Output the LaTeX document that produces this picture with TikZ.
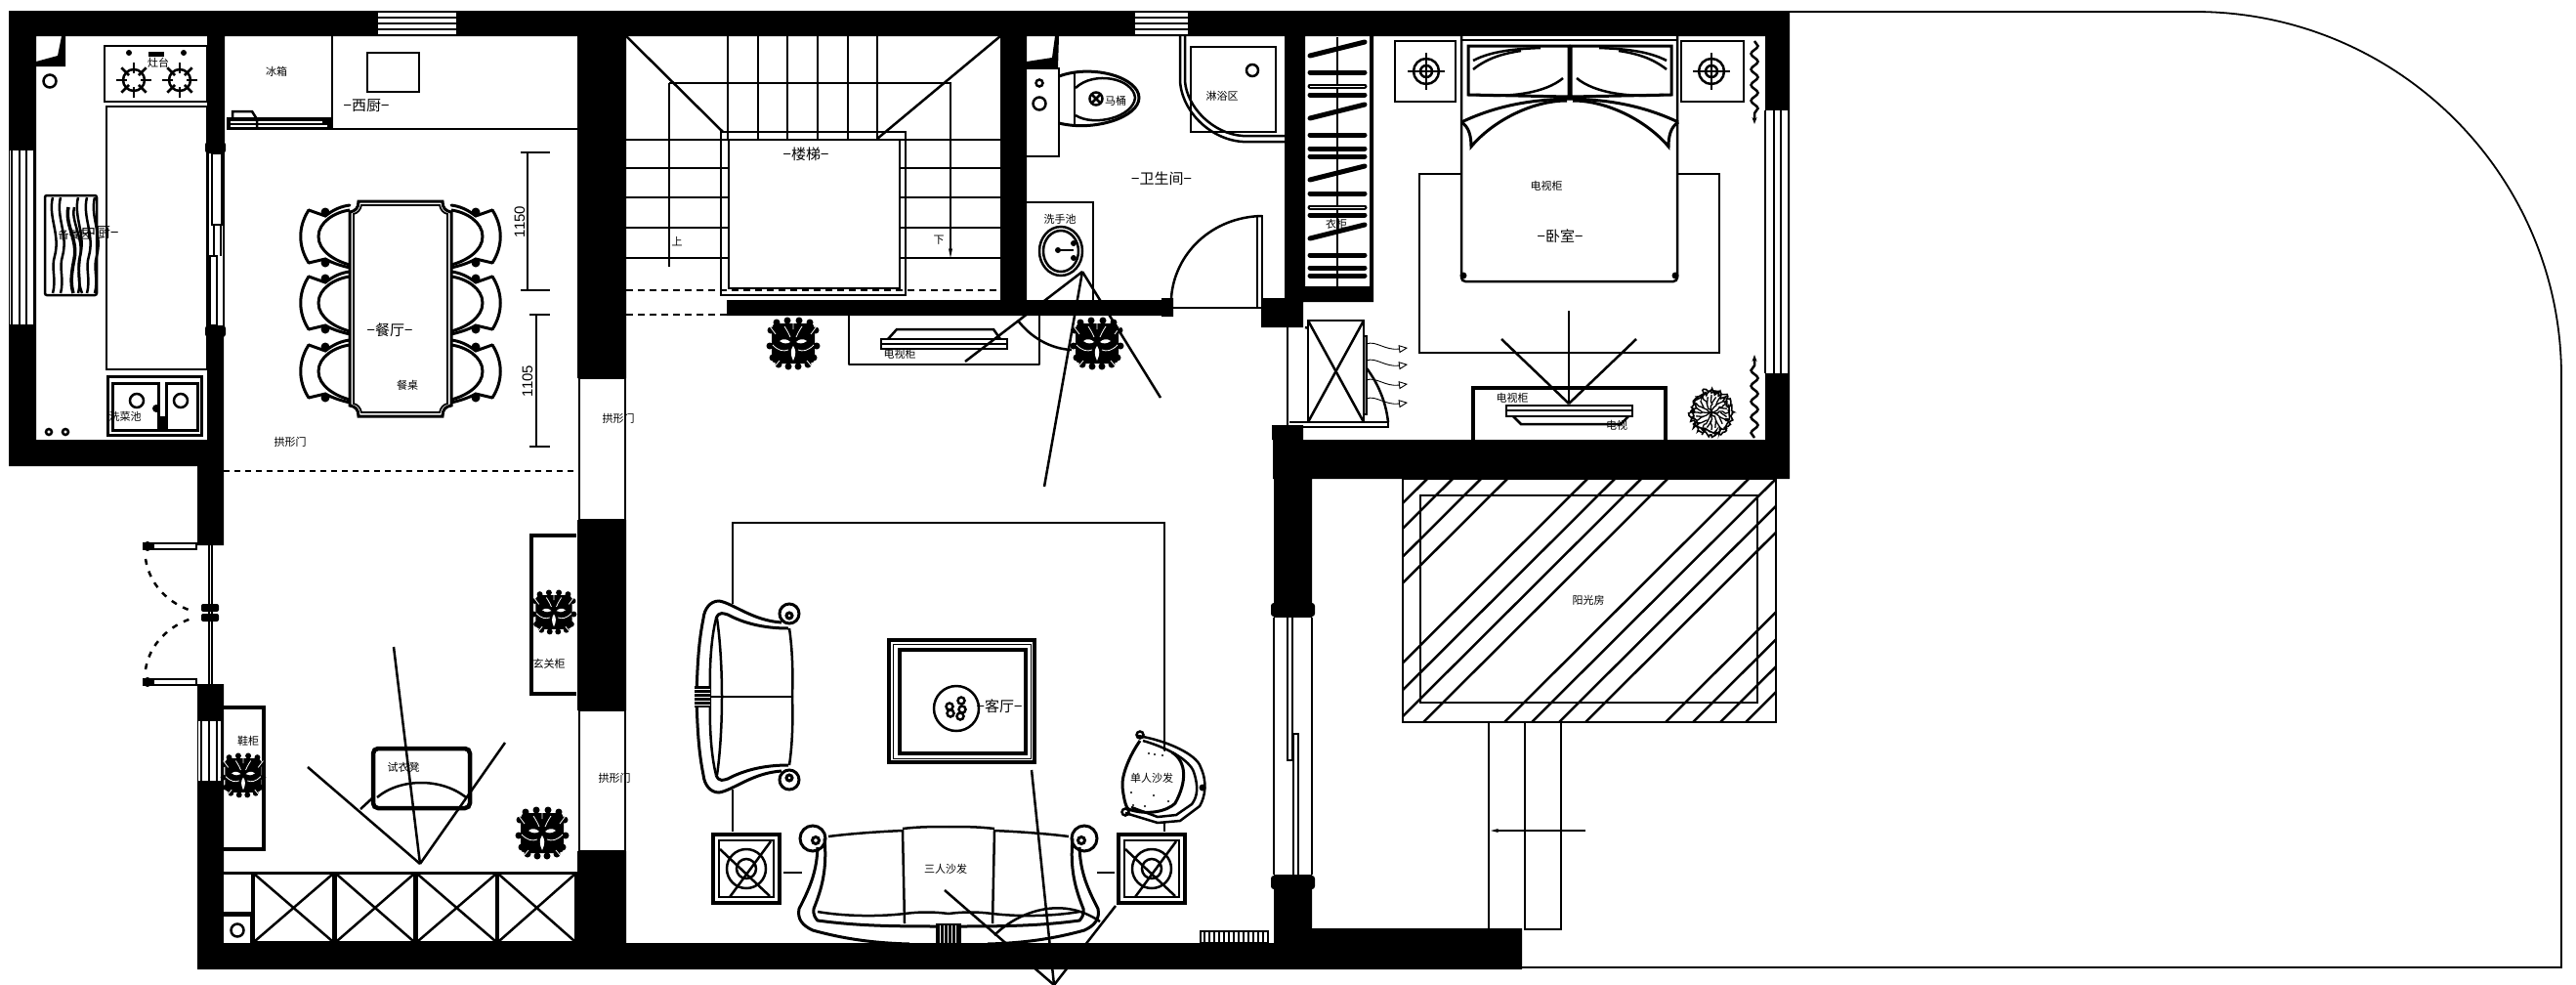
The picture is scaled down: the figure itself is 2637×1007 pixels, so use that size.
\documentclass[tikz,border=0pt]{standalone}
\usepackage{fontspec}
\setmainfont{Noto Sans CJK SC}
\newfontfamily\dimfont{Liberation Sans}
\usetikzlibrary{arrows.meta, decorations.pathmorphing}

\tikzset{
    thinln/.style={line width=1.3pt},
    midln/.style={line width=2.5pt},
    furnln/.style={line width=3pt},
    thickln/.style={line width=4.5pt},
    roomlabel/.style={inner sep=0pt, font=\fontsize{15}{15}\selectfont},
    smalllabel/.style={inner sep=0pt, font=\fontsize{11}{11}\selectfont},
    dimlabel/.style={inner sep=0pt, rotate=90, font=\dimfont\fontsize{15}{15}\selectfont},
    pics/flora/.style={code={
        \fill[black, rounded corners=5pt] (-22,-20) rectangle (22,21);
        \foreach \x/\y in {-23/-13,-17/-21,-6/-23,6/-23,17/-21,23/-13,-24/3,24/3,-21/15,21/15,-15/22,15/22,-5/24,5/24} \fill[black] (\x,\y) circle (3.5);
        \fill[white] (-14,-2) .. controls (-10,-5) and (-6,-4) .. (-3,-1) .. controls (-6,1) and (-10,1) .. (-14,-2);
        \fill[white] (14,-2) .. controls (10,-5) and (6,-4) .. (3,-1) .. controls (6,1) and (10,1) .. (14,-2);
        \fill[white] (0,3) .. controls (3,7) and (3,12) .. (0,18) .. controls (-3,12) and (-3,7) .. (0,3);
        \draw[white, line width=.8pt] (-9,-17) .. controls (-5,-11) and (-4,-8) .. (-3,-6);
        \draw[white, line width=.8pt] (9,-17) .. controls (5,-11) and (4,-8) .. (3,-6);
        \draw[white, line width=.8pt] (-21,2) .. controls (-15,8) and (-10,9) .. (-5,7);
        \draw[white, line width=.8pt] (21,2) .. controls (15,8) and (10,9) .. (5,7);
        \draw[white, line width=.8pt] (-18,-9) -- (-24,-17) (18,-9) -- (24,-17) (-14,18) -- (-19,24) (14,18) -- (19,24) (0,-14) -- (0,-25);
    }},
    pics/dinechair/.style={code={
        \draw[furnln, line cap=round] (-42,-27) .. controls (-53,-10) and (-53,10) .. (-42,27);
        \draw[furnln, line cap=round] (-42,-27) -- (-25,-21) .. controls (-16,-28) and (-8,-31) .. (0,-32);
        \draw[furnln, line cap=round] (-42,27) -- (-25,23) .. controls (-16,28) and (-8,30) .. (0,32);
        \draw[furnln] (0,-27) .. controls (-15,-25) and (-32,-15) .. (-32,0) .. controls (-32,15) and (-15,25) .. (0,29);
        \fill (-25,-25) circle (4.5);
        \fill (-25,27) circle (4.5);
    }},
    pics/target/.style={code={
        \draw[midln] (0,0) circle (13);
        \draw[midln] (0,0) circle (6);
        \draw[midln] (-19,0) -- (19,0);
        \draw[midln] (0,-19) -- (0,19);
    }},
    pics/endtable/.style={code={
        \draw[thickln, fill=white] (-34,-35) rectangle (34,35);
        \draw[midln] (-28,-29) rectangle (28,29);
        \draw[midln] (0,0) circle (20);
        \draw[midln] (0,0) circle (10);
        \draw[midln] (-27,-20) -- (24,28);
        \draw[midln] (25,-28) -- (-17,29);
    }}
}

\begin{document}
\begin{tikzpicture}[x=1pt, y=-1pt]
    \useasboundingbox (0,0) rectangle (2637,1007);
    \fill[white] (0,0) rectangle (2637,1007);

    % Garden boundary
    \draw[line width=1.8pt] (1832,12) -- (2247,12) .. controls (2454,12) and (2622,179) .. (2622,385) -- (2622,990) -- (1558,990);

    % Sun room steps
    \draw[midln] (1524,739) -- (1524,951);
    \draw[midln] (1561,739) -- (1561,951) -- (1598,951) -- (1598,739);
    \draw[midln, -{Stealth[length=8pt,width=4pt]}] (1623,850) -- (1526,850);

    % Sun room
    \begin{scope}
        \clip (1436,490) rectangle (1818,739);
        \foreach \t in {1461,1487,1516,1543,1625,1653,1680,1707,1790,1818,1846,1873,1955,1983,2011,2037}
            \draw[midln] (\t,490) -- ({\t-250},739);
    \end{scope}
    \draw[midln] (1436,490) rectangle (1818,739);
    \draw[midln] (1454,507) rectangle (1799,719);

    % Walls
    \fill[black]
        (9,11) rectangle (1832,37)
        (9,11) rectangle (37,477)
        (9,450) rectangle (212,477)
        (212,37) rectangle (230,145)
        (212,343) rectangle (229,450)
        (202,450) rectangle (229,558)
        (202,700) rectangle (229,992)
        (202,965) rectangle (1558,992)
        (591,37) rectangle (641,387)
        (591,532) rectangle (641,727)
        (591,871) rectangle (641,965)
        (1024,37) rectangle (1051,308)
        (744,307) rectangle (1201,323)
        (1189,305) rectangle (1201,324)
        (1315,37) rectangle (1336,308)
        (1316,293) rectangle (1406,309)
        (1402,37) rectangle (1406,293)
        (1291,305) rectangle (1334,335)
        (1302,435) rectangle (1334,450)
        (1303,450) rectangle (1832,490)
        (1807,37) rectangle (1832,490)
        (1304,490) rectangle (1343,950)
        (1304,950) rectangle (1558,965);

    % Arched doors in the middle wall
    \draw[thinln, fill=white] (593,387) rectangle (640,532);
    \draw[thinln, fill=white] (593,727) rectangle (640,871);

    % Top windows
    \foreach \xa/\xb in {387/467,1162/1216} {
        \fill[white] (\xa,13) rectangle (\xb,35);
        \foreach \y in {18,24,30} \draw[midln] (\xa,\y) -- (\xb,\y);
    }
    % Side windows
    \fill[white] (10,154) rectangle (35,332);
    \foreach \x in {12,20,27,35} \draw[midln] (\x,154) -- (\x,332);
    \fill[white] (1807,113) rectangle (1832,382);
    \foreach \x in {1807,1816,1823,1831} \draw[midln] (\x,113) -- (\x,382);
    \fill[white] (203,738) rectangle (226,799);
    \foreach \x in {206,214,222} \draw[midln] (\x,738) -- (\x,799);

    % Kitchen window
    \fill[white] (212,145) rectangle (230,343);
    \draw[midln] (213,145) -- (213,343);
    \draw[midln] (229,145) -- (229,343);
    \draw[midln] (217,157) rectangle (227,230);
    \draw[midln] (219,230) -- (219,262) (226,230) -- (226,262);
    \draw[midln] (215,262) rectangle (222,333);
    \foreach \y in {151,339} \fill[rounded corners=3pt] (210,\y-6) rectangle (231,\y+6);

    % Living room sliding window
    \fill[white] (1305,632) rectangle (1342,895);
    \draw[midln] (1304,632) -- (1304,895);
    \draw[midln] (1343,632) -- (1343,895);
    \draw[line width=1.8pt] (1318,632) -- (1318,778) -- (1323,778) -- (1323,632);
    \draw[line width=1.8pt] (1324,895) -- (1324,751) -- (1329,751) -- (1329,895);
    \foreach \y in {624,903} \fill[rounded corners=3pt] (1301,\y-7) rectangle (1346,\y+7);

    % Entrance door
    \foreach \y in {559,698} {
        \fill (146,\y-4) rectangle (202,\y+4);
        \fill[white] (158,\y-2) rectangle (200,\y+2);
        \fill (151,\y) circle (5);
    }
    \draw[midln] (214,558) -- (214,700);
    \draw[midln] (217,558) -- (217,700);
    \foreach \y in {622,632} \fill[rounded corners=2pt] (206,\y-4) rectangle (224,\y+4);
    \draw[midln, dash pattern=on 6pt off 7pt] (149,572) .. controls (153,598) and (172,618) .. (199,626);
    \draw[midln, dash pattern=on 6pt off 7pt] (149,685) .. controls (153,660) and (172,640) .. (199,632);
    \draw[midln, dash pattern=on 6pt off 5pt] (229,482) -- (591,482);

    % Kitchen
    \fill[black] (37,63) -- (59,57) -- (63,37) -- (67,37) -- (67,68) -- (37,68) -- cycle;
    \draw[midln] (51,83) circle (6.5);
    \draw[midln] (50,442) circle (3);
    \draw[midln] (67,442) circle (3);
    \draw[midln] (107,47) rectangle (212,104);
    \foreach \x in {137,184} {
        \draw[midln] (\x,82) circle (11);
        \foreach \a in {0,45,...,315} \draw[midln] (\x,82) ++(\a:7) -- ++(\a:11);
    }
    \fill (132,54) circle (3);
    \fill (188,54) circle (3);
    \fill (152,53) rectangle (168,58);
    \draw[midln] (109,109) rectangle (212,378);
    \draw[rounded corners=2pt, line width=2.5pt] (46,200) rectangle (99,302);
    \foreach \dx in {0,8,26,35,43} {
        \draw[midln, xshift=\dx] (54,202) .. controls (49,222) and (62,240) .. (56,262) .. controls (52,275) and (58,285) .. (54,300);
    }
    \draw[line width=3.5pt] (70,212) .. controls (66,230) and (80,245) .. (76,265) .. controls (73,280) and (72,290) .. (75,300);
    \draw[midln] (76,212) .. controls (72,225) and (86,245) .. (82,262) .. controls (80,280) and (80,290) .. (84,300);
    \draw[line width=3pt] (110,385) rectangle (206,445);
    \draw[line width=3pt] (115,392) rectangle (162,440);
    \draw[line width=3pt] (170,392) rectangle (202,440);
    \draw[midln] (140,410) circle (7);
    \draw[midln] (185,410) circle (7);
    \fill (160,418) circle (4);
    \fill (164,426) rectangle (170,442);

    % West kitchen
    \draw[midln] (340,37) -- (340,132) -- (591,132);
    \fill (232,120) rectangle (341,133);
    \fill[white] (236,124) rectangle (330,125.5);
    \fill[white] (236,128) rectangle (335,129.5);
    \draw[midln] (238,122) -- (238,114) -- (258,114) -- (263,122) -- (263,130);
    \draw[midln] (376,54) rectangle (429,94);

    % Dining room
    \foreach \y in {242,310,380} {
        \pic at (358,\y) {dinechair};
        \pic[xscale=-1] at (462,\y) {dinechair};
    }
    \draw[furnln, fill=white] (367,206) -- (453,206) .. controls (453,213) and (456,216) .. (462,217) -- (462,415) .. controls (456,416) and (453,419) .. (453,426) -- (367,426) .. controls (367,419) and (364,416) .. (358,415) -- (358,217) .. controls (364,216) and (367,213) .. (367,206) -- cycle;
    \draw[line width=1.8pt] (370,210) -- (450,210) .. controls (451,215) and (454,218) .. (458,219) -- (458,413) .. controls (454,414) and (451,417) .. (450,422) -- (370,422) .. controls (369,417) and (366,414) .. (362,413) -- (362,219) .. controls (366,218) and (369,215) .. (370,210) -- cycle;
    \draw[midln] (540,156) -- (540,297);
    \draw[midln] (533,156) -- (563,156);
    \draw[midln] (533,297) -- (563,297);
    \draw[midln] (549,322) -- (549,457);
    \draw[midln] (542,322) -- (563,322);
    \draw[midln] (542,457) -- (563,457);

    % Stairs
    \foreach \y in {172,202,233,264} {
        \draw[midln] (641,\y) -- (746,\y);
        \draw[midln] (921,\y) -- (1024,\y);
    }
    \draw[line width=1.8pt] (641,143) -- (746,143) (921,143) -- (1024,143);
    \foreach \x in {745,776,806,837,868,898} \draw[midln] (\x,37) -- (\x,143);
    \draw[midln] (641,37) -- (740,135);
    \draw[midln] (1024,37) -- (898,142);
    \draw[midln] (738,135) rectangle (927,302);
    \draw[midln] (746,143) rectangle (921,295);
    \draw[midln] (685,273) -- (685,85);
    \draw[midln, -{Stealth[length=10pt,width=4pt]}] (685,85) -- (973,85) -- (973,264);
    \draw[midln, dash pattern=on 7pt off 5pt] (641,297) -- (1024,297);
    \draw[midln, dash pattern=on 7pt off 5pt] (641,322) -- (744,322);

    % Bathroom
    \fill[black] (1051,63) -- (1077,59) -- (1080,37) -- (1084,37) -- (1083,70) -- (1051,70) -- cycle;
    \draw[midln] (1051,70) -- (1084,70) -- (1084,160) -- (1051,160);
    \draw[midln] (1064,85) circle (3.5);
    \draw[midln] (1064,106) circle (6.5);
    \draw[furnln] (1084,78) .. controls (1120,65) and (1166,80) .. (1166,100) .. controls (1166,120) and (1120,135) .. (1084,126);
    \draw[midln] (1100,75) -- (1100,127);
    \draw[midln] (1101,90) .. controls (1120,72) and (1160,80) .. (1162,100) .. controls (1160,120) and (1120,130) .. (1101,118);
    \draw[midln] (1122,101) circle (6.5);
    \draw[midln] (1117,96) -- (1127,106) (1127,96) -- (1117,106);
    \draw[midln] (1219,48) rectangle (1306,135);
    \draw[midln] (1208,37) -- (1208,83) .. controls (1210,115) and (1240,143) .. (1272,145) -- (1315,145);
    \draw[midln] (1213,37) -- (1213,83) .. controls (1215,110) and (1242,137) .. (1272,139) -- (1315,139);
    \draw[midln] (1282,72) circle (6);
    \draw[midln] (1051,207) -- (1119,207) -- (1119,308);
    \draw[midln] (1086,257) ellipse (22 and 25);
    \draw[midln] (1086,257) ellipse (18 and 21);
    \fill (1083,256) circle (3);
    \draw[midln] (1083,256) -- (1099,256);
    \fill (1099,249) circle (3);
    \fill (1099,264) circle (3);
    \draw[midln] (1201,315) -- (1292,315);
    \draw[midln] (1287,221) rectangle (1292,315);
    \draw[midln] (1292,221) .. controls (1240,222) and (1202,260) .. (1199,305);

    % TV cabinet by the stairs
    \draw[midln, line join=round] (869,323) -- (869,373) -- (1064,373) -- (1064,323);
    \draw[midln] (909,347) -- (918,337) -- (1017,337) -- (1024,347);
    \draw[midln, fill=white] (902,347) rectangle (1031,357);
    \draw[thinln] (902,352) -- (1031,352);
    \pic at (812,351) {flora};
    \pic at (1123,351) {flora};
    \draw[midln] (1108,278) -- (1069,498);
    \draw[midln] (1108,278) -- (1188,407);
    \draw[midln] (1108,278) -- (988,370);
    \draw[midln] (1042,328) .. controls (1055,345) and (1075,357) .. (1097,358);

    % Wardrobe
    \draw[midln] (1369,38) -- (1369,293);
    \foreach \y in {74,97,138,152,160,198,220,261,274,282}
        \draw[line width=5pt, line cap=round] (1341,\y) -- (1397,\y);
    \foreach \y in {88,212} {
        \draw[line width=5pt, line cap=round] (1341,\y) -- (1397,\y);
        \draw[white, line width=.9pt] (1341,\y) -- (1397,\y);
    }
    \foreach \y in {50,114,177,237}
        \draw[line width=5pt, line cap=round] (1341,\y+7) -- (1397,\y-7);

    % Air conditioner and door
    \draw[midln] (1318,335) -- (1318,437);
    \draw[midln] (1320,437) -- (1421,437) -- (1421,432) -- (1320,432);
    \draw[midln] (1336,335) .. controls (1380,345) and (1416,385) .. (1421,432);
    \draw[midln, fill=white] (1339,328) rectangle (1396,432);
    \draw[midln] (1339,328) -- (1396,432);
    \draw[midln] (1396,328) -- (1339,432);
    \draw[thinln, fill=black!40] (1396,344) rectangle (1399,424);
    \foreach \y in {356,373,393,412}
        \draw[line width=.9pt, -{Triangle[open,length=9pt,width=8pt,line width=.9pt]}] (1399,\y-4) .. controls (1408,\y-8) and (1418,\y+3) .. (1441,\y);

    % Bedroom
    \draw[midln] (1453,178) rectangle (1760,361);
    \draw[midln, fill=white, rounded corners=4pt] (1496,37) -- (1496,288) -- (1717,288) -- (1717,37);
    \draw[midln] (1428,42) rectangle (1490,104);
    \draw[midln] (1721,42) rectangle (1785,104);
    \pic at (1460,73) {target};
    \pic at (1752,73) {target};
    \draw[midln] (1496,41) -- (1717,41);
    \foreach \s/\c in {1/1607,-1/1607} {
        \begin{scope}[shift={(\c,0)}, xscale=\s]
            \draw[furnln] (-104,47) -- (-1,47) -- (-1,99) -- (-104,97) -- cycle;
            \draw[midln] (-99,62) .. controls (-80,52) and (-55,50) .. (-30,49);
            \draw[midln] (-99,71) .. controls (-85,60) and (-70,55) .. (-50,52);
            \draw[midln] (-96,97) .. controls (-60,100) and (-25,95) .. (-7,80);
            \draw[furnln] (-111,125) .. controls (-75,108) and (-40,102) .. (0,101);
            \draw[furnln] (-111,125) .. controls (-103,130) and (-101,140) .. (-101,150) .. controls (-80,125) and (-40,103) .. (-3,103);
        \end{scope}
    }
    \fill (1498,282) circle (3.5);
    \fill (1715,282) circle (3.5);
    \draw[thickln] (1508,450) -- (1508,397) -- (1705,397) -- (1705,450);
    \draw[midln] (1549,426) -- (1557,434) -- (1659,434) -- (1667,426);
    \draw[midln, fill=white] (1542,415) rectangle (1671,426);
    \draw[thinln] (1542,420) -- (1671,420);
    \draw[midln] (1606,413) -- (1606,318);
    \draw[midln] (1606,413) -- (1537,347);
    \draw[midln] (1606,413) -- (1675,347);

    % Curtains
    \draw[midln, decorate, decoration={snake, amplitude=3.5pt, segment length=16pt, post length=10pt}, -{Stealth[length=7pt,width=5pt]}] (1796,42) -- (1796,127);
    \draw[midln, decorate, decoration={snake, amplitude=3.5pt, segment length=16pt, post length=10pt}, -{Stealth[length=7pt,width=5pt]}] (1796,448) -- (1796,363);

    % Potted tree
    \pgfmathsetseed{7}
    \foreach \r in {21,18} \draw[line width=1.6pt, decorate, decoration={random steps, segment length=1.6pt, amplitude=2.4pt}] (1752,422) ellipse [x radius=\r, y radius=\r+2];
    \foreach \a in {0,30,...,330} {
        \draw[thinln, decorate, decoration={random steps, segment length=3pt, amplitude=1.2pt}] (1752,422) -- ++(\a:18);
        \draw[thinln] (1752,422) ++(\a:9) -- ++({\a+35}:8);
    }

    % Shoe cabinet
    \draw[thickln] (229,724) -- (270,724) -- (270,869) -- (229,869);
    \pic[scale=.85] at (249,793) {flora};

    % Hall cabinet
    \draw[thickln] (590,548) -- (544,548) -- (544,710) -- (590,710);
    \pic[scale=.85] at (567,626) {flora};
    \pic at (555,852) {flora};

    % Fitting stool
    \draw[midln] (430,884) -- (403,662);
    \draw[midln] (430,884) -- (315,785);
    \draw[midln] (430,884) -- (517,760);
    \draw[midln] (369,828) -- (382,816);
    \draw[thickln, rounded corners=5pt] (382,766) rectangle (481,827);
    \draw[midln] (386,816) .. controls (410,796) and (452,796) .. (477,816);

    % Shelves by the bottom wall
    \fill[black] (229,892) rectangle (591,965);
    \fill[white] (229,895) rectangle (257,933);
    \fill[white] (229,938) rectangle (256,965);
    \draw[midln] (243,952) circle (6.5);
    \foreach \xa/\xb in {261/340,345/423,428/507,511/588} {
        \fill[white] (\xa,895) rectangle (\xb,963);
        \draw[midln] (\xa,895) -- (\xb,963);
        \draw[midln] (\xb,895) -- (\xa,963);
    }

    % Living room rug
    \draw[midln] (750,851) -- (750,535) -- (1192,535) -- (1192,851);

    % Coffee table
    \draw[line width=4pt, fill=white] (910,655) rectangle (1059,780);
    \draw[line width=1pt] (914,659) rectangle (1055,776);
    \draw[line width=3.5pt] (921,665) rectangle (1050,771);
    \draw[midln] (979,725) circle (23);
    \draw[midln] (972,723) circle (3.5);
    \draw[midln] (984,717) circle (3.5);
    \draw[midln] (985,726) circle (3.5);
    \draw[midln] (983,733) circle (3.5);
    \draw[midln] (973,730) circle (3.5);

    % Left sofa
    \fill[white] (713,618) rectangle (811,808);
    \foreach \s in {1,-1} {
        \begin{scope}[shift={(0,713)}, yscale=\s]
            \draw[furnln] (713,0) .. controls (714,-40) and (716,-60) .. (720,-80) .. controls (721,-90) and (727,-98) .. (736,-98) .. controls (750,-96) and (770,-78) .. (800,-76);
            \draw[furnln] (733,-80) .. controls (736,-88) and (741,-85) .. (745,-84) .. controls (760,-76) and (780,-70) .. (807,-70);
            \draw[midln] (811,0) .. controls (812,-25) and (811,-50) .. (808,-70);
            \draw[midln] (727,0) .. controls (726,-30) and (728,-60) .. (733,-80);
            \draw[midln] (739,0) .. controls (739,-30) and (737,-60) .. (734,-80);
            \draw[furnln] (808,-85) circle (10);
            \draw[furnln] (808,-83) circle (3);
        \end{scope}
    }
    \draw[midln] (713,713) -- (811,713);
    \fill (711,702) rectangle (727,724);
    \foreach \y in {705,709,713,717,721} \draw[white, line width=.7pt] (711,\y) -- (727,\y);

    % Armchair
    \fill[white] (1158,752) -- (1235,790) -- (1235,820) -- (1205,842) -- (1180,842) -- (1148,832) -- (1148,790) -- cycle;
    \draw[midln] (1165,753) .. controls (1195,758) and (1225,772) .. (1229,785) .. controls (1236,800) and (1234,815) .. (1228,825) -- (1208,840) -- (1185,842) -- (1152,832);
    \draw[midln] (1170,758) .. controls (1195,765) and (1218,778) .. (1222,790) .. controls (1227,805) and (1226,815) .. (1220,823) -- (1204,834) -- (1185,836) -- (1158,826);
    \draw[furnln] (1167,758) .. controls (1155,775) and (1148,795) .. (1149,805) .. controls (1150,815) and (1152,825) .. (1155,828) .. controls (1175,835) and (1195,830) .. (1203,822) .. controls (1215,800) and (1215,780) .. (1200,770);
    \draw[midln] (1167,752) circle (3.5);
    \draw[midln] (1152,831) circle (3.5);
    \foreach \x/\y in {1176/771,1182/772,1190/773,1158/811,1181/814,1160/824,1172/825,1196/820} \fill (\x,\y) circle (1.2);
    \fill (1231,806) circle (3.5);

    % Side tables
    \pic at (764,889) {endtable};
    \pic at (1179,889) {endtable};
    \draw[midln] (802,893) -- (821,893);
    \draw[midln] (1123,893) -- (1141,893);

    % Three seat sofa
    \fill[white] (822,850) rectangle (1120,965);
    \foreach \s in {1,-1} {
        \begin{scope}[shift={(971,0)}, xscale=\s]
            \draw[furnln] (-134,867) .. controls (-135,890) and (-140,905) .. (-153,930) .. controls (-155,940) and (-150,947) .. (-139,952) .. controls (-110,960) and (-80,965) .. (-40,966);
            \draw[furnln] (-127,858) .. controls (-124,890) and (-130,910) .. (-138,930) .. controls (-139,936) and (-136,940) .. (-134,942) .. controls (-90,948) and (-50,948) .. (0,948);
            \draw[midln] (-123,856) .. controls (-100,853) and (-70,851) .. (-47,850) -- (-45,945);
            \draw[midln] (-47,848) .. controls (-30,846) and (-15,846) .. (0,846);
            \draw[midln] (-134,933) .. controls (-105,938) and (-70,938) .. (-45,935) .. controls (-30,933) and (-15,933) .. (0,935);
            \draw[furnln] (-139,858) circle (13);
            \draw[furnln] (-136,860) circle (3.5);
        \end{scope}
    }
    \fill (958,945) rectangle (984,965);
    \foreach \x in {962,966,970,974,978} \draw[white, line width=.7pt] (\x,947) -- (\x,965);

    % Heater
    \draw[thinln, fill=white] (1229,953) rectangle (1298,965);
    \foreach \x in {1233,1238,...,1295} \draw[line width=1.5pt] (\x,953) -- (\x,965);

    % Sight lines by the sofa
    \draw[midln] (1079,1008) -- (967,911);
    \draw[midln] (1079,1008) -- (1056,788);
    \draw[midln] (1079,1008) -- (1142,927);
    \draw[midln] (1018,957) .. controls (1040,935) and (1085,915) .. (1126,943);
    \fill (700,965) rectangle (1200,992);

    % Labels
    \node[roomlabel] (zhongchu) at (98,238) {−中厨−};
    \node[smalllabel] (beican) at (76,240) {备餐区};
    \node[smalllabel] (zaotai) at (162,64) {灶台};
    \node[smalllabel] (xicai) at (128,426) {洗菜池};
    \node[smalllabel] (bingxiang) at (283,73) {冰箱};
    \node[roomlabel] (xichu) at (375,108) {−西厨−};
    \node[roomlabel] (canting) at (399,338) {−餐厅−};
    \node[smalllabel] (canzhuo) at (417,394) {餐桌};
    \node[smalllabel] (gongmen) at (297,452) {拱形门};
    \node[smalllabel] (gongmenb) at (633,428) {拱形门};
    \node[smalllabel] (gongmenc) at (629,796) {拱形门};
    \node[dimlabel] (dima) at (532,227) {1150};
    \node[dimlabel] (dimb) at (540,390) {1105};
    \node[roomlabel] (louti) at (825,158) {−楼梯−};
    \node[smalllabel] (shang) at (693,247) {上};
    \node[smalllabel] (xia) at (961,246) {下};
    \node[smalllabel] (matong) at (1142,103) {马桶};
    \node[smalllabel] (linyu) at (1251,98) {淋浴区};
    \node[roomlabel] (weisheng) at (1189,183) {−卫生间−};
    \node[smalllabel] (xishou) at (1085,224) {洗手池};
    \node[smalllabel] (dianshia) at (921,362) {电视柜};
    \node[smalllabel] (yigui) at (1368,229) {衣柜};
    \node[smalllabel] (dianshib) at (1583,190) {电视柜};
    \node[roomlabel] (woshi) at (1597,242) {−卧室−};
    \node[smalllabel] (dianshic) at (1548,407) {电视柜};
    \node[smalllabel] (dianshi) at (1655,435) {电视};
    \node[smalllabel] (yangguang) at (1626,614) {阳光房};
    \node[smalllabel] (xiegui) at (254,758) {鞋柜};
    \node[smalllabel] (xuanguan) at (562,679) {玄关柜};
    \node[smalllabel] (shiyi) at (413,785) {试衣凳};
    \node[roomlabel] (keting) at (1023,723) {−客厅−};
    \node[smalllabel] (danren) at (1179,796) {单人沙发};
    \node[smalllabel] (sanren) at (968,889) {三人沙发};
\end{tikzpicture}
\end{document}
